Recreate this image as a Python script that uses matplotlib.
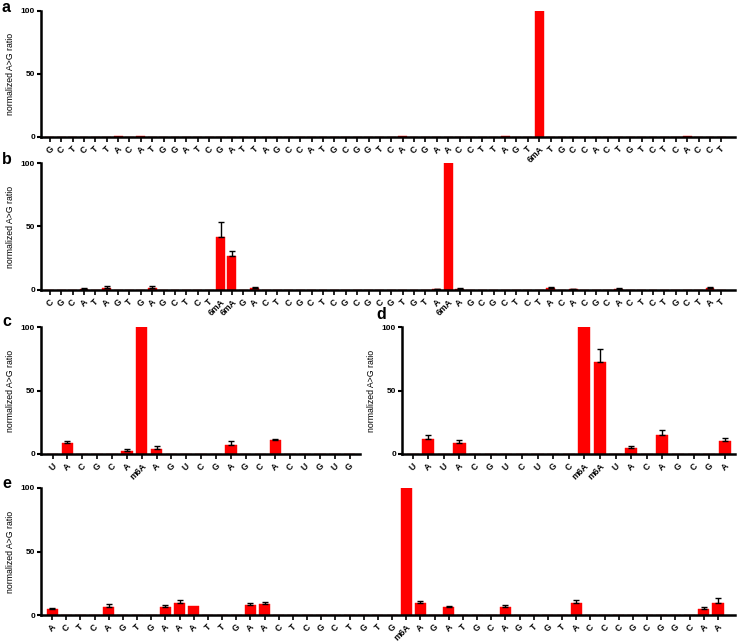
import matplotlib
matplotlib.use("Agg")
import matplotlib.pyplot as plt
import numpy as np

plt.rcParams['font.family'] = ['Liberation Sans', 'DejaVu Sans']

# ---------------- data ----------------
labels_a = "G C T C T T A C A T G G A T C G A T T A G C C A T G C G G T C A C G A A C C T T A G T 6mA T G C C A C T G T C T C A C C T".split()
vals_a = [0] * len(labels_a)
err_a = [0] * len(labels_a)
ia = labels_a.index("6mA")
vals_a[6] = 0.6
vals_a[8] = 0.6
vals_a[ia - 12] = 0.6
vals_a[ia - 3] = 0.8
vals_a[ia] = 100
vals_a[ia + 13] = 0.6

labels_b = ("C G C A T A G T G A G C T C T 6mA 6mA G A C T C G C T C G C G C G T G T A 6mA "
            "A G C G C T C T A C A C G C A C T C T G C T A T").split()
vals_b = [0] * len(labels_b)
err_b = [0] * len(labels_b)
ib = len(labels_b) - 25
for i, v, e in [(3, 1.0, 0.6), (5, 1.8, 1.0), (9, 1.8, 1.0), (15, 42, 11.5), (16, 27, 4.0), (18, 1.5, 0.8),
                (ib - 1, 0.5, 0.3), (ib, 100, 0), (ib + 1, 1.0, 0.5), (ib + 9, 1.5, 0.6),
                (ib + 11, 0.6, 0.4), (ib + 15, 0.8, 0.5), (ib + 23, 1.5, 0.7)]:
    vals_b[i] = v
    err_b[i] = e

labels_c = "U A C G C A m6A A G U C G A G C A C U G U G".split()
vals_c = [0, 8.7, 0, 0, 0, 2.6, 100, 4.2, 0, 0, 0, 0, 7.4, 0, 0, 10.8, 0, 0, 0, 0, 0]
err_c = [0, 1.9, 0, 0, 0, 1.4, 0, 2.1, 0, 0, 0, 0, 2.6, 0, 0, 0.8, 0, 0, 0, 0, 0]

labels_d = "U A U A C G U C U G C m6A m6A U A C A G C G A".split()
vals_d = [0, 11.9, 0, 8.7, 0, 0, 0, 0, 0, 0, 0, 100, 72.5, 0, 4.8, 0, 14.6, 0, 0, 0, 10.6]
err_d = [0, 3.1, 0, 2.3, 0, 0, 0, 0, 0, 0, 0, 0, 10.5, 0, 1.5, 0, 4.4, 0, 0, 0, 2.1]

labels_e = ("A C T C A G T G A A A T T G A A C T C G C T G T G m6A "
            "A G A T G C A G T G T A C C C G C G G C A A").split()
vals_e = [0] * len(labels_e)
err_e = [0] * len(labels_e)
ie = labels_e.index("m6A")
for i, v, e in [(0, 4.5, 1.3), (4, 6.6, 1.8), (8, 6.3, 1.6), (9, 9.7, 2.1), (10, 7.1, 0),
                (14, 7.6, 1.6), (15, 8.4, 2.1), (ie, 100, 0), (ie + 1, 9.2, 1.6),
                (ie + 3, 6.0, 1.4), (ie + 7, 6.6, 1.6), (ie + 12, 9.2, 2.6),
                (ie + 21, 5.0, 1.6), (ie + 22, 9.7, 3.3)]:
    vals_e[i] = v
    err_e[i] = e

yticks = [0, 50, 100]
ylabel = "normalized A>G ratio"

# ---------------- figure ----------------
W, H = 738, 642
fig = plt.figure(figsize=(W / 100, H / 100), dpi=100)


def px_axes(left, right, top, bottom):
    return fig.add_axes([left / W, 1 - bottom / H, (right - left) / W, (bottom - top) / H])


def panel(ax, labels, vals, errs, lpad, rpad, letter, lx, ly):
    n = len(labels)
    x = np.arange(n)
    ax.bar(x, vals, width=0.78, color='#ff0000', edgecolor='#ff0000', linewidth=0.3, zorder=2)
    xs = [i for i in range(n) if errs[i] > 0]
    if xs:
        ax.errorbar(xs, [vals[i] for i in xs],
                    yerr=[[0] * len(xs), [errs[i] for i in xs]],
                    fmt='none', ecolor='black', elinewidth=1.0, capsize=2.2, capthick=1.0, zorder=3)
    ax.set_xlim(-lpad, n - 1 + rpad)
    ax.set_ylim(0, 100)
    ax.set_yticks(yticks)
    ax.set_yticklabels([str(t) for t in yticks], fontsize=6, fontweight='bold')
    ax.set_xticks(x)
    ax.set_xticklabels(labels, rotation=45, fontsize=6.3, fontweight='bold')
    for t, lab in zip(ax.get_xticklabels(), labels):
        if len(lab) > 1:
            t.set_ha('right')
            t.set_rotation_mode('anchor')
        else:
            t.set_ha('center')
            t.set_va('top')
    ax.tick_params(axis='x', length=3.5, width=1.2, pad=2)
    ax.tick_params(axis='y', length=3, width=1.5, pad=1)
    for s in ['top', 'right']:
        ax.spines[s].set_visible(False)
    for s in ['left', 'bottom']:
        ax.spines[s].set_linewidth(1.8)
    ax.set_ylabel(ylabel, fontsize=6.3, labelpad=4)
    fig.text(lx / W, 1 - ly / H, letter, fontsize=11.5, fontweight='bold', va='top', ha='left')


ax_a = px_axes(40.7, 735, 10.7, 136.7)
panel(ax_a, labels_a, vals_a, err_a, 0.8, 1.2, 'a', 2, 0)

ax_b = px_axes(40.7, 735, 163, 290)
panel(ax_b, labels_b, vals_b, err_b, 0.8, 1.2, 'b', 2, 152)

ax_c = px_axes(40.7, 360, 327, 454)
panel(ax_c, labels_c, vals_c, err_c, 0.8, 0.7, 'c', 2, 314)

ax_d = px_axes(401.7, 735, 327, 454)
panel(ax_d, labels_d, vals_d, err_d, 0.7, 0.65, 'd', 376, 307)

ax_e = px_axes(40.7, 735, 488, 615)
panel(ax_e, labels_e, vals_e, err_e, 0.8, 1.2, 'e', 2, 476)

fig.savefig("out.png", dpi=100)
